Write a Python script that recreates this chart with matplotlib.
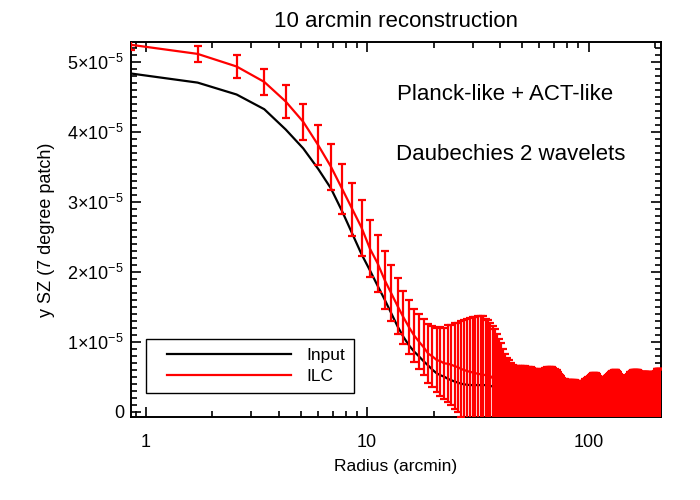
import numpy as np
import matplotlib
matplotlib.use('Agg')
import matplotlib.pyplot as plt
from matplotlib.lines import Line2D
from matplotlib.legend_handler import HandlerBase
from matplotlib.ticker import MultipleLocator, FuncFormatter, FixedLocator, LogLocator, NullFormatter

plt.rcParams['font.family'] = ['Liberation Sans', 'DejaVu Sans']
plt.rcParams['mathtext.fontset'] = 'custom'
plt.rcParams['mathtext.rm'] = 'Liberation Sans'
plt.rcParams['mathtext.it'] = 'Liberation Sans:italic'
plt.rcParams['mathtext.bf'] = 'Liberation Sans:bold'
plt.rcParams['mathtext.default'] = 'regular'

# ---------------- data (y values in units of 1e-5) ----------------
bin_arcmin = 0.857
n_bins = 248
radius = bin_arcmin * np.arange(1, n_bins + 1)

input_y = [
    4.83, 4.70, 4.53, 4.32, 4.03, 3.76, 3.47, 3.19, 2.86, 2.54,
    2.25, 2.02, 1.80, 1.60, 1.405, 1.22, 1.07, 0.95, 0.86, 0.79,
    0.72, 0.66, 0.60, 0.55, 0.52, 0.50, 0.47, 0.45, 0.43, 0.415,
    0.40, 0.39, 0.385, 0.38, 0.38, 0.38, 0.38, 0.38, 0.38, 0.38,
    0.375, 0.37,
    0.36, 0.35, 0.34, 0.33, 0.32, 0.31, 0.30, 0.29, 0.28, 0.27, 0.26, 0.25, 0.24, 0.23, 0.22, 0.21, 0.20, 0.20,
    0.19, 0.19, 0.18, 0.18, 0.18, 0.17, 0.17, 0.17, 0.16, 0.16, 0.16, 0.15, 0.15, 0.15, 0.14, 0.14, 0.14, 0.13, 0.13, 0.13,
    0.12, 0.12, 0.12, 0.12, 0.12, 0.12, 0.12, 0.12, 0.12, 0.12, 0.11, 0.11, 0.11, 0.11, 0.11, 0.11, 0.11, 0.11, 0.11, 0.11,
    0.10, 0.10, 0.10, 0.10, 0.10, 0.10, 0.10, 0.10, 0.10, 0.10, 0.09, 0.09, 0.09, 0.09, 0.09, 0.09, 0.09, 0.09, 0.09, 0.09,
    0.08, 0.08, 0.08, 0.08, 0.08, 0.08, 0.08, 0.08, 0.08, 0.08, 0.08, 0.08, 0.08, 0.08, 0.08, 0.08, 0.08, 0.08, 0.08, 0.08,
    0.07, 0.07, 0.07, 0.07, 0.07, 0.07, 0.07, 0.07, 0.07, 0.07, 0.07, 0.07, 0.07, 0.07, 0.07, 0.07, 0.07, 0.07, 0.07, 0.07,
    0.06, 0.06, 0.06, 0.06, 0.06, 0.06, 0.06, 0.06, 0.06, 0.06, 0.06, 0.06, 0.06, 0.06, 0.06, 0.06, 0.06, 0.06, 0.06, 0.06,
    0.05, 0.05, 0.05, 0.05, 0.05, 0.05, 0.05, 0.05, 0.05, 0.05, 0.05, 0.05, 0.05, 0.05, 0.05, 0.05, 0.05, 0.05, 0.05, 0.05,
    0.04, 0.04, 0.04, 0.04, 0.04, 0.04, 0.04, 0.04, 0.04, 0.04, 0.04, 0.04, 0.04, 0.04, 0.04, 0.04, 0.04, 0.04, 0.04, 0.04,
    0.03, 0.03, 0.03, 0.03, 0.03, 0.03, 0.03, 0.03, 0.03, 0.03, 0.03, 0.03, 0.03, 0.03, 0.03, 0.03, 0.03, 0.03, 0.03, 0.03,
    0.03, 0.03, 0.03, 0.03, 0.03, 0.03, 0.03, 0.03,
]

ilc_y = [
    5.24, 5.11, 4.93, 4.71, 4.43, 4.14, 3.81, 3.50, 3.18, 2.89,
    2.63, 2.33, 2.12, 1.88, 1.69, 1.51, 1.35, 1.21, 1.09, 1.00,
    0.92, 0.83, 0.79, 0.74, 0.72, 0.69, 0.685, 0.67, 0.65, 0.635,
    0.61, 0.595, 0.58, 0.57, 0.56, 0.55, 0.54, 0.535, 0.53, 0.52,
    0.515, 0.51,
    0.48, 0.45, 0.42, 0.39, 0.36, 0.33, 0.30, 0.28, 0.26, 0.24,
    0.23, 0.22, 0.21, 0.20, 0.19, 0.18, 0.17, 0.16,
    0.15, 0.15, 0.15, 0.14, 0.14, 0.14, 0.14, 0.13, 0.13, 0.13, 0.13, 0.13, 0.13, 0.13, 0.13, 0.13, 0.13, 0.13, 0.12, 0.12,
    0.12, 0.12, 0.12, 0.12, 0.12, 0.12, 0.12, 0.12, 0.12, 0.12, 0.12, 0.12, 0.12, 0.12, 0.12, 0.12, 0.12, 0.12, 0.12, 0.12,
    0.11, 0.11, 0.11, 0.11, 0.11, 0.11, 0.11, 0.11, 0.11, 0.11, 0.11, 0.11, 0.11, 0.11, 0.11, 0.11, 0.11, 0.11, 0.11, 0.11,
    0.10, 0.10, 0.10, 0.10, 0.10, 0.10, 0.10, 0.10, 0.10, 0.10, 0.10, 0.10, 0.10, 0.10, 0.10, 0.10, 0.10, 0.10, 0.10, 0.10,
    0.10, 0.10, 0.10, 0.10, 0.10, 0.10, 0.10, 0.10, 0.10, 0.10, 0.10, 0.10, 0.10, 0.10, 0.10, 0.10, 0.10, 0.10, 0.10, 0.10,
    0.09, 0.09, 0.09, 0.09, 0.09, 0.09, 0.09, 0.09, 0.09, 0.09, 0.09, 0.09, 0.09, 0.09, 0.09, 0.09, 0.09, 0.09, 0.09, 0.09,
    0.09, 0.09, 0.09, 0.09, 0.09, 0.09, 0.09, 0.09, 0.09, 0.09, 0.09, 0.09, 0.09, 0.09, 0.09, 0.09, 0.09, 0.09, 0.09, 0.09,
    0.08, 0.08, 0.08, 0.08, 0.08, 0.08, 0.08, 0.08, 0.08, 0.08, 0.08, 0.08, 0.08, 0.08, 0.08, 0.08, 0.08, 0.08, 0.08, 0.08,
    0.08, 0.08, 0.08, 0.08, 0.08, 0.08, 0.08, 0.08, 0.08, 0.08, 0.08, 0.08, 0.08, 0.08, 0.08, 0.08, 0.08, 0.08, 0.08, 0.08,
    0.08, 0.08, 0.08, 0.08, 0.08, 0.08, 0.08, 0.08,
]

# top of each ILC error bar (ILC + 1 sigma)
ilc_upper = [
    5.31, 5.23, 5.09, 4.90, 4.67, 4.40, 4.10, 3.83, 3.54, 3.27,
    3.03, 2.74, 2.53, 2.29, 2.09, 1.91, 1.73, 1.59, 1.47, 1.39,
    1.32, 1.25, 1.23, 1.20, 1.21, 1.20, 1.235, 1.245, 1.26, 1.27,
    1.29, 1.305, 1.32, 1.335, 1.35, 1.355, 1.36, 1.37, 1.37, 1.33,
    1.31, 1.27,
    1.22, 1.18, 1.11, 1.04, 0.98, 0.89, 0.82, 0.77, 0.74, 0.70,
    0.66, 0.655, 0.655, 0.655, 0.655, 0.655, 0.65, 0.65, 0.645,
    0.635, 0.635, 0.635, 0.63,
    0.615, 0.61, 0.61, 0.605,
    0.60, 0.596, 0.60,
    0.61, 0.62, 0.63,
    0.64, 0.64, 0.64, 0.64, 0.635, 0.625,
    0.61, 0.60, 0.59, 0.57,
    0.54, 0.525, 0.51,
    0.48, 0.465, 0.46,
    0.455, 0.455, 0.453, 0.453, 0.453, 0.453, 0.453, 0.453, 0.453, 0.45, 0.445, 0.44, 0.435,
    0.425, 0.42, 0.42, 0.425,
    0.43, 0.44, 0.445, 0.45, 0.46, 0.47,
    0.48, 0.49, 0.495, 0.50, 0.51, 0.525,
    0.54, 0.55, 0.557, 0.557, 0.557, 0.55, 0.54,
    0.525, 0.51, 0.50, 0.495, 0.485, 0.475,
    0.465, 0.455, 0.453, 0.46, 0.47,
    0.49, 0.50, 0.51, 0.515, 0.52, 0.53, 0.54, 0.55,
    0.56, 0.571, 0.575, 0.58, 0.585,
    0.59, 0.596, 0.596, 0.596, 0.59, 0.58, 0.565, 0.55,
    0.535, 0.524, 0.52, 0.51, 0.50, 0.49, 0.48, 0.475,
    0.467, 0.467, 0.467, 0.47, 0.48, 0.49,
    0.50, 0.51, 0.52, 0.53, 0.54, 0.55, 0.56,
    0.565, 0.571, 0.575, 0.58, 0.585, 0.59,
    0.596, 0.596, 0.596, 0.596, 0.596, 0.596, 0.596, 0.596, 0.59, 0.585, 0.58, 0.575, 0.57,
    0.567, 0.567, 0.567, 0.567, 0.567, 0.567, 0.567, 0.567, 0.567, 0.567, 0.567, 0.567, 0.567, 0.567, 0.567,
    0.571, 0.571, 0.571, 0.571, 0.56, 0.545, 0.53,
    0.515, 0.51, 0.51, 0.51, 0.52, 0.53, 0.545, 0.555,
    0.567, 0.567, 0.567, 0.567, 0.567, 0.567, 0.58, 0.59,
    0.606, 0.606, 0.606, 0.606, 0.606, 0.606, 0.606, 0.606, 0.606, 0.606, 0.606,
]

y_major_ticks = [0, 1, 2, 3, 4, 5]
x_tick_values = [1, 10, 100]
x_tick_labels = ["1", "10", "100"]
legend_labels = ["Input", "ILC"]
title_text = "10 arcmin reconstruction"
annotations = ["Planck-like + ACT-like", "Daubechies 2 wavelets"]

n = min(len(input_y), len(ilc_y), len(ilc_upper), len(radius))
radius = radius[:n]
scale = 1e-5
inp = np.array(input_y[:n]) * scale
ilc = np.array(ilc_y[:n]) * scale
err = (np.array(ilc_upper[:n]) - np.array(ilc_y[:n])) * scale

# ---------------- figure ----------------
fig = plt.figure(figsize=(7, 5), dpi=100)
ax = fig.add_axes([131 / 700, 83 / 500, 530 / 700, 375 / 500])

ax.plot(radius, inp, color='black', lw=1.6, zorder=2)
ax.errorbar(radius, ilc, yerr=err, color='#ff0000', lw=1.6, elinewidth=1.6,
            capsize=2.6, capthick=1.6, zorder=3)

ax.set_xscale('log')
ax.set_xlim(radius[0], radius[-1])
ax.set_ylim(-0.076e-5, 5.28e-5)

ax.xaxis.set_major_locator(FixedLocator(x_tick_values))
ax.set_xticklabels(x_tick_labels)
ax.xaxis.set_minor_locator(LogLocator(base=10, subs=np.arange(2, 10)))
ax.xaxis.set_minor_formatter(NullFormatter())

ax.yaxis.set_major_locator(FixedLocator([v * scale for v in y_major_ticks]))
ax.yaxis.set_minor_locator(MultipleLocator(0.1 * scale))


def yfmt(v, pos):
    m = int(round(v / scale))
    if m == 0:
        return "0"
    return "%d\u00d710$^{-5}$" % m


ax.yaxis.set_major_formatter(FuncFormatter(yfmt))

for s in ax.spines.values():
    s.set_linewidth(1.4)
ax.tick_params(which='both', direction='in', top=True, right=True, width=1.2,
               labelsize=13)
ax.tick_params(which='major', length=7.5)
ax.tick_params(which='minor', length=4)
ax.tick_params(axis='x', which='major', pad=12)
ax.tick_params(axis='y', which='major', pad=5)

ax.set_title(title_text, fontsize=16, pad=10.5)
ax.set_xlabel("Radius (arcmin)", fontsize=12.5, labelpad=6)
ax.set_ylabel("y SZ (7 degree patch)", fontsize=13, labelpad=9)

ax.text(0.705, 0.861, annotations[0], transform=ax.transAxes, ha='center',
        va='center', fontsize=16)
ax.text(0.716, 0.701, annotations[1], transform=ax.transAxes, ha='center',
        va='center', fontsize=16)


class OffsetLineHandler(HandlerBase):
    """Legend line drawn over the right part of the handle box."""
    def create_artists(self, legend, orig_handle, xdescent, ydescent,
                       width, height, fontsize, trans):
        y = height / 2.0 - ydescent
        x0 = -xdescent + 0.093 * width
        x1 = -xdescent + width
        line = Line2D([x0, x1], [y, y], color=orig_handle.get_color(),
                      lw=orig_handle.get_linewidth())
        line.set_transform(trans)
        return [line]


handles = [Line2D([], [], color='black', lw=1.6),
           Line2D([], [], color='#ff0000', lw=1.6)]
leg = ax.legend(handles, legend_labels, loc='lower left',
                bbox_to_anchor=(0.0277, 0.0632), borderaxespad=0,
                fontsize=12.5, handlelength=7.83, handletextpad=0.88,
                borderpad=0.52, labelspacing=0.35, fancybox=False,
                framealpha=1, edgecolor='black',
                handler_map={Line2D: OffsetLineHandler()})
leg.get_frame().set_linewidth(1.0)

fig.savefig('out.png', dpi=100)
